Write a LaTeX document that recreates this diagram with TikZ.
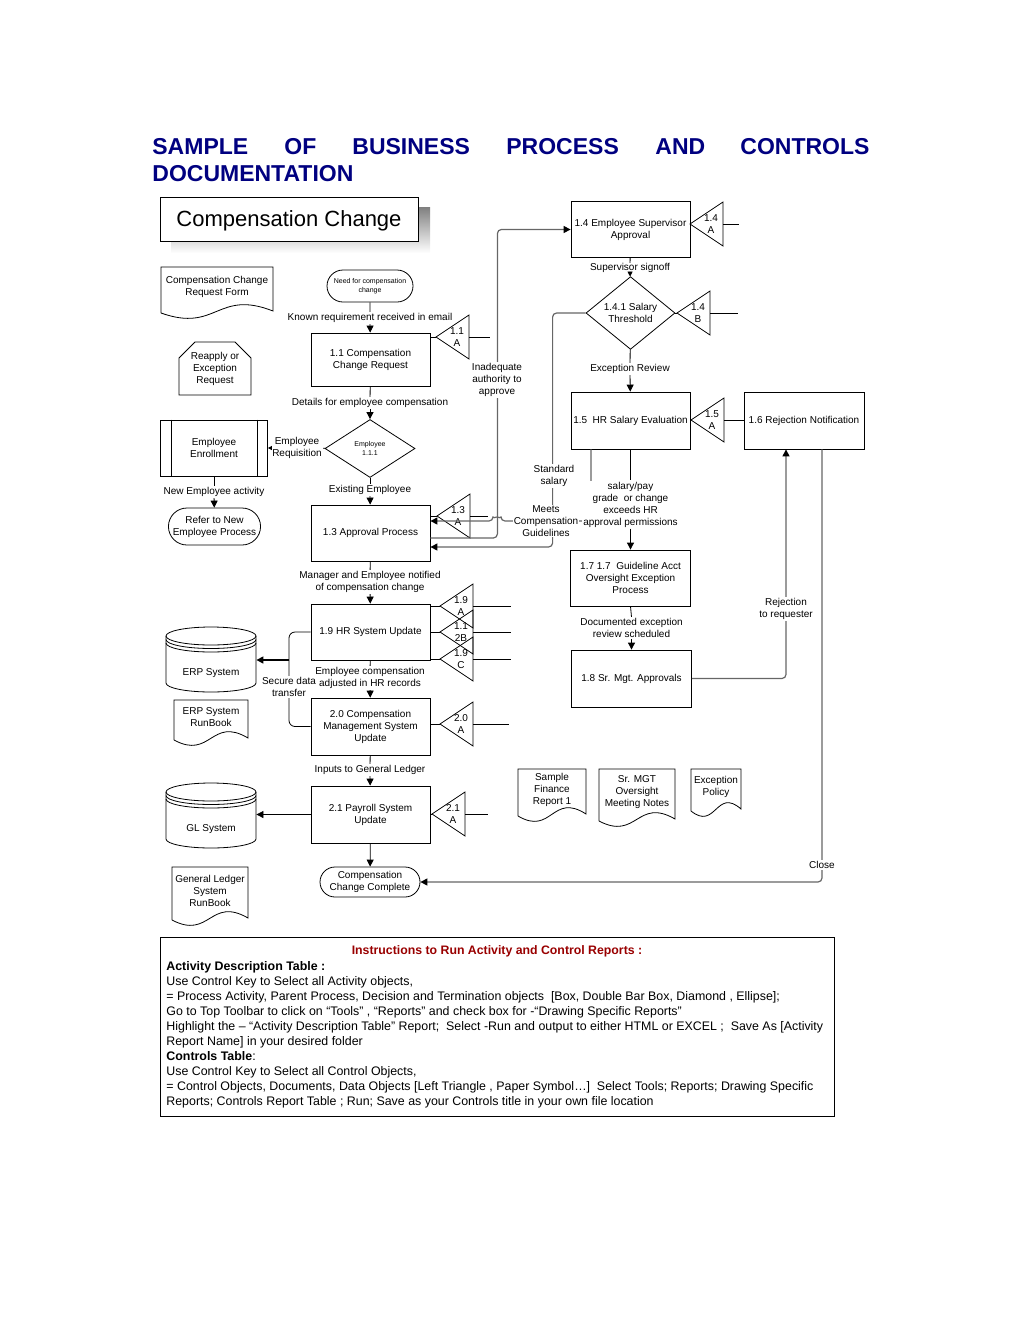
\documentclass[tikz,border=0pt]{standalone}
\usepackage{fontspec}
\setmainfont{Liberation Sans}
\usetikzlibrary{shapes.geometric,shapes.misc,arrows.meta}
\definecolor{navy}{RGB}{0,0,128}
\definecolor{rptred}{RGB}{153,0,0}
\definecolor{shade}{RGB}{234,234,220}

\newcommand\ctrl[5]{%
  \coordinate (#1l) at (#2,#3);
  \coordinate (#1r) at (#2+33,#3);
  \coordinate (#1e) at (#2+33+#5,#3);
  \draw (#1l) -- ++(33,-22) -- ++(0,44) -- cycle;
  \node[inner sep=0pt,font=\fontsize{10}{12.5}\selectfont] (#1) at (#2+21,#3) {#4};
  \draw (#1r) -- (#1e);}
\newcommand\docu[6]{%
  \draw (#2,#5) -- (#2,#3) -- (#4,#3) -- (#4,#5-2)
    .. controls ({(#2+#4)/2},#5-24) and ({(#2+#4)/2},#5+20) .. (#2,#5);
  \node (#1) at ({(#2+#4)/2},{(#3+#5)/2-3}) {#6};}
\newcommand\disk[6]{%
  \node[minimum width=90pt,minimum height={(#4-#3)*1pt},inner sep=0pt] (#1) at (#2,{(#3+#4)/2}) {};
  \draw (#2-45,#3+9) -- (#2-45,#4-9) arc[start angle=180,end angle=0,x radius=45,y radius=9] -- (#2+45,#3+9);
  \draw (#2,#3+9) ellipse[x radius=45,y radius=9];
  \draw (#2-45,#3+12.5) arc[start angle=180,end angle=0,x radius=45,y radius=9];
  \draw (#2-45,#3+16) arc[start angle=180,end angle=0,x radius=45,y radius=9];
  \node (#1t) at (#2,#5) {#6};}

\begin{document}
\begin{tikzpicture}[x=1pt,y=-1pt,line width=0.8pt,
  >={Triangle[length=7pt,width=7pt]},
  every node/.style={font=\fontsize{10}{12}\selectfont,align=center},
  head/.style={font=\fontsize{23}{27}\selectfont\bfseries,text=navy,anchor=base west,inner sep=0pt},
  box/.style={draw,minimum width=119pt,minimum height=56pt,inner sep=1pt},
  term/.style={draw,rounded rectangle,inner sep=1pt},
  lbl/.style={fill=white,inner sep=1pt},
  gline/.style={draw=black!60,line width=1.2pt,rounded corners=4pt,-{Triangle[length=7pt,width=7pt,color=black]}}]
\useasboundingbox (0,0) rectangle (1020,1320);

\node[head] (H1) at (152,154) {SAMPLE};
\node[head] (H2) at (284,154) {OF};
\node[head] (H3) at (352,154) {BUSINESS};
\node[head] (H4) at (506,154) {PROCESS};
\node[head] (H5) at (655,154) {AND};
\node[head] (H6) at (740,154) {CONTROLS};
\node[head] (H7) at (152,181) {DOCUMENTATION};

\fill[shade] (171,207) rectangle (430,253);
\node[draw,fill=white,minimum width=258pt,minimum height=44pt,text depth=0pt,font=\fontsize{22}{26}\selectfont] (TT) at (289,219) {Compensation Change};

\docu{CCRF}{161}{267}{273}{313}{Compensation Change\\Request Form}
\node[draw,chamfered rectangle,chamfered rectangle corners={north west,north east},chamfered rectangle xsep=8pt,chamfered rectangle ysep=8pt,minimum width=72pt,minimum height=53pt,inner sep=1pt] (RE) at (215,368.5) {Reapply or\\Exception\\Request};

\node[term,minimum width=88pt,minimum height=32pt,font=\fontsize{7}{8.5}\selectfont] (START) at (370,286) {Need for compensation\\change};
\node[lbl] (L1) at (370,318) {Known requirement received in email};
\node[box,minimum height=53pt] (P11) at (370.5,359.5) {1.1 Compensation\\Change Request};
\draw (START) -- (L1);
\draw[->] (L1) -- (P11);
\ctrl{T11}{436}{337}{1.1\\A}{21}
\draw (P11.east |- T11l) -- (T11l);

\node[lbl] (L2) at (370,403) {Details for employee compensation};
\node[draw,diamond,minimum width=90pt,minimum height=58pt,inner sep=0pt,font=\fontsize{7}{9}\selectfont] (D111) at (370,448.5) {Employee\\1.1.1};
\draw (P11) -- (L2);
\draw[->] (L2) -- (D111);

\node[draw,minimum width=107pt,minimum height=56pt] (EE) at (214,448) {Employee\\Enrollment};
\draw ([xshift=11pt]EE.north west) -- ([xshift=11pt]EE.south west);
\draw ([xshift=-11pt]EE.north east) -- ([xshift=-11pt]EE.south east);
\node[lbl] (LR) at (297,448) {Employee\\Requisition};
\draw (D111) -- (LR);
\draw[-{Triangle[length=4pt,width=4pt]}] (LR) -- (EE);
\node[lbl] (L3) at (214,492) {New Employee activity};
\node[term,minimum width=89pt,minimum height=37pt] (NEP) at (214.5,526.5) {Refer to New\\Employee Process};
\draw (EE) -- (L3);
\draw[->] (L3) -- (NEP);

\node[lbl] (L4) at (370,490) {Existing Employee};
\node[box] (P13) at (370.5,533) {1.3 Approval Process};
\draw (D111) -- (L4);
\draw[->] (L4) -- (P13);
\ctrl{T13}{437}{516}{1.3\\A}{18}
\draw (P13.east |- T13l) -- (T13l);

\node[lbl] (L5) at (370,582) {Manager and Employee notified\\of compensation change};
\node[box] (P19) at (370.5,632) {1.9 HR System Update};
\draw (P13) -- (L5);
\draw[->] (L5) -- (P19);
\ctrl{T19A}{440}{606}{1.9\\A}{38}
\ctrl{T112B}{440}{632}{1.1\\2B}{38}
\ctrl{T19C}{440}{659}{1.9\\C}{38}
\draw (P19.east |- T19Al) -- (T19Al);
\draw (P19.east |- T112Bl) -- (T112Bl);
\draw (P19.east |- T19Cl) -- (T19Cl);

\node[lbl] (L6) at (370,678) {Employee compensation\\adjusted in HR records};
\node[box,minimum height=57pt] (P20) at (370.5,726.5) {2.0 Compensation\\Management System\\Update};
\draw (P19) -- (L6);
\draw[->] (L6) -- (P20);
\ctrl{T20A}{440}{724}{2.0\\A}{36}
\draw (P20.east |- T20Al) -- (T20Al);

\node[lbl] (L7) at (370,770) {Inputs to General Ledger};
\node[box,minimum height=57pt] (P21) at (370.5,814.5) {2.1 Payroll System\\Update};
\draw (P20) -- (L7);
\draw[->] (L7) -- (P21);
\ctrl{T21A}{432}{814}{2.1\\A}{23}
\draw (P21.east |- T21Al) -- (T21Al);
\node[term,minimum width=102pt,minimum height=30pt] (END) at (370,882) {Compensation\\Change Complete};
\draw[->] (P21) -- (END);

\disk{ERP}{211}{627}{692}{673}{ERP System}
\coordinate (J1) at (289,660);
\draw[rounded corners=6pt] (P19.west) -| (J1);
\draw[rounded corners=6pt] (P20.west) -| (J1);
\draw[->,line width=1.5pt] (J1) -- (J1 -| ERP.east);
\node[lbl] (LS) at (289,687) {Secure data\\transfer};
\docu{ERPRB}{174}{700}{248}{740}{ERP System\\RunBook}

\disk{GL}{211}{783}{848}{829}{GL System}
\draw[->] (P21.west) -- (P21.west -| GL.east);
\docu{GLRB}{172}{867}{248}{920}{General Ledger\\System\\RunBook}

\node[box] (P14) at (630.5,229.5) {1.4 Employee Supervisor\\Approval};
\ctrl{T14A}{690}{224}{1.4\\A}{16}
\node[lbl,inner sep=0pt] (L8) at (630,268) {Supervisor signoff};
\node[draw,diamond,minimum width=89pt,minimum height=72pt,inner sep=0pt] (D141) at (630.5,313) {1.4.1 Salary\\Threshold};
\draw (P14) -- (L8);
\draw[-{Triangle[length=5pt,width=5pt]}] (L8) -- (D141);
\ctrl{T14B}{677}{313}{1.4\\B}{28}
\draw (D141.east) -- (T14Bl);
\node[lbl] (L9) at (630,369) {Exception Review};
\node[box,minimum height=57pt] (P15) at (630.5,420.5) {1.5\ \ HR Salary Evaluation};
\draw (D141) -- (L9);
\draw[->] (L9) -- (P15);
\node[box,minimum width=120pt,minimum height=57pt] (P16) at (804,420.5) {1.6 Rejection Notification};
\ctrl{T15A}{691}{420}{1.5\\A}{0}
\draw (T15Ar) -- (T15Ar -| P16.west);

\node[box,minimum width=120pt] (P17) at (630.5,578) {1.7 1.7\ \ Guideline Acct\\Oversight Exception\\Process};
\node[lbl] (L11) at (631.5,628) {Documented exception\\review scheduled};
\node[box,minimum width=120pt,minimum height=57pt] (P18) at (631.5,678.5) {1.8 Sr. Mgt. Approvals};
\draw (P17.south) -- (L11.north);
\draw[->] (L11) -- (P18);

\draw[gline] ([yshift=-5pt]P13.east) -- ++(67,0) |- (P14.west);
\draw[gline] (D141.west) -- ++(-33,0) |- ([yshift=-14pt]P13.east);
\draw[gline] ([xshift=-39.5pt]P15.south) |- (501,521) arc[start angle=0,end angle=-180,radius=4] -- ([yshift=12pt]P13.east);
\draw[gline] (P18.east) -| ([xshift=-18pt]P16.south);
\draw[gline] ([xshift=18pt]P16.south) |- (END.east);
\node[lbl] (LI) at (497,380) {Inadequate\\authority to\\approve};
\node[lbl] (LSS) at (554,476) {Standard\\salary};
\node[lbl] (LM) at (546,521) {Meets\\Compensation\\Guidelines};
\node[lbl] (L10) at (630.5,504.5) {salary/pay\\grade\ \ or change\\exceeds HR\\approval permissions};
\draw (P15) -- (L10);
\draw[->] (L10) -- (P17);
\node[lbl] (LRJ) at (786,609) {Rejection\\to requester};
\node[lbl] (LC) at (822,865) {Close};

\docu{SFR}{518}{769}{586}{816}{Sample\\Finance\\Report 1}
\docu{SMN}{599}{769}{675}{821}{Sr. MGT\\Oversight\\Meeting Notes}
\docu{EP}{691}{769}{741}{811}{Exception\\Policy}

\node[draw,minimum width=674pt,minimum height=179pt,inner sep=0pt] (IB) at (497,1026.5) {};
\node[font=\fontsize{12.3}{14}\selectfont\bfseries,text=rptred] (IH) at (497,951) {Instructions to Run Activity and Control Reports :};
\node[anchor=north west,align=left,inner sep=0pt,font=\fontsize{12.4}{15}\selectfont] (IT) at (166,961) {\textbf{Activity Description Table :}\\
Use Control Key to Select all Activity objects,\\
= Process Activity, Parent Process, Decision and Termination objects\ \ [Box, Double Bar Box, Diamond , Ellipse];\\
Go to Top Toolbar to click on “Tools” , “Reports” and check box for -“Drawing Specific Reports”\\
Highlight the – “Activity Description Table” Report;\ \ Select -Run and output to either HTML or EXCEL ;\ \ Save As [Activity\\
Report Name] in your desired folder\\
\textbf{Controls Table}:\\
Use Control Key to Select all Control Objects,\\
= Control Objects, Documents, Data Objects [Left Triangle , Paper Symbol…]\ \ Select Tools; Reports; Drawing Specific\\
Reports; Controls Report Table ; Run; Save as your Controls title in your own file location};
\end{tikzpicture}
\end{document}
